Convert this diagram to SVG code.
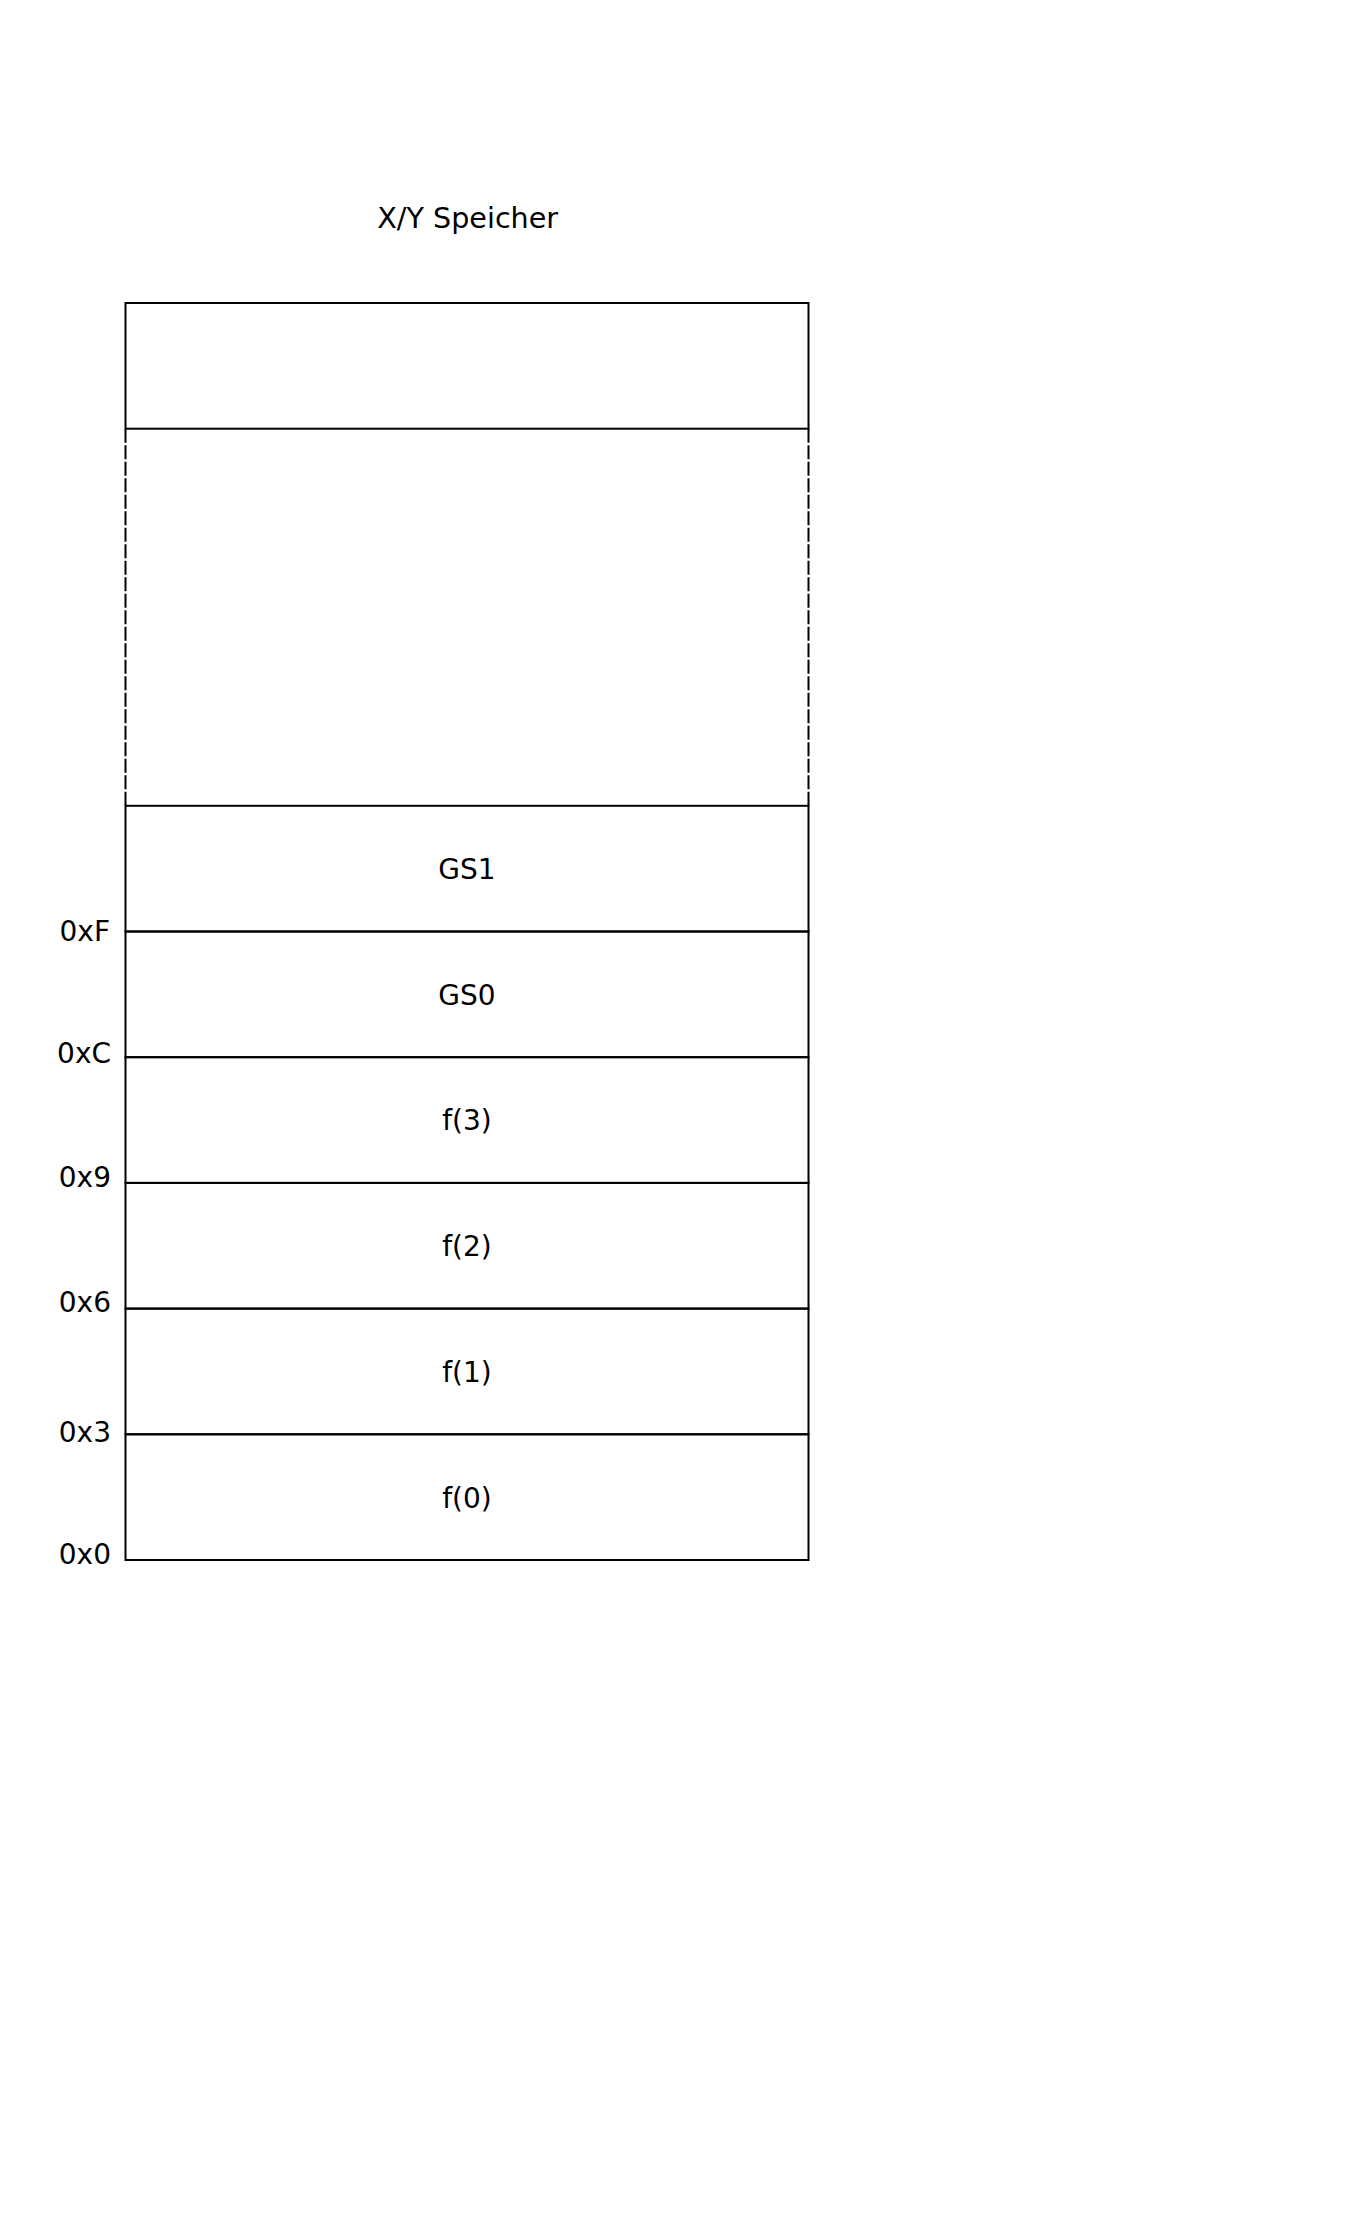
<svg xmlns="http://www.w3.org/2000/svg" width="1364" height="2233" viewBox="0 0 1364 2233">
<style>
text{font-family:"DejaVu Sans","Liberation Sans",sans-serif;font-size:28px;fill:#000}
.t{font-size:28.6px}
.c{text-anchor:middle}
.l{text-anchor:end}
.cell{fill:none;stroke:#000;stroke-width:2}
.dash{fill:none;stroke:#000;stroke-width:2;stroke-dasharray:14 2.5}
</style>
<rect width="1364" height="2233" fill="#fff"/>
<text class="c t" x="467.7" y="228.3">X/Y Speicher</text>
<g id="top"><rect class="cell" x="125.5" y="303" width="683" height="125.7"/></g>
<g id="gap"><line class="dash" x1="125.5" y1="428.7" x2="125.5" y2="805.8"/><line class="dash" x1="808.5" y1="428.7" x2="808.5" y2="805.8"/></g>
<g id="gs1"><rect class="cell" x="125.5" y="805.8" width="683" height="125.7"/><text class="c" x="467" y="879">GS1</text></g>
<g id="gs0"><rect class="cell" x="125.5" y="931.5" width="683" height="125.7"/><text class="c" x="467" y="1004.7">GS0</text></g>
<g id="f3"><rect class="cell" x="125.5" y="1057.2" width="683" height="125.7"/><text class="c" x="467" y="1130.4">f(3)</text></g>
<g id="f2"><rect class="cell" x="125.5" y="1182.9" width="683" height="125.7"/><text class="c" x="467" y="1256.1">f(2)</text></g>
<g id="f1"><rect class="cell" x="125.5" y="1308.6" width="683" height="125.7"/><text class="c" x="467" y="1381.8">f(1)</text></g>
<g id="f0"><rect class="cell" x="125.5" y="1434.3" width="683" height="125.7"/><text class="c" x="467" y="1507.5">f(0)</text></g>
<g id="addr">
<text class="l" x="110" y="941">0xF</text>
<text class="l" x="111" y="1062.7">0xC</text>
<text class="l" x="111" y="1186.7">0x9</text>
<text class="l" x="111" y="1311.5">0x6</text>
<text class="l" x="111" y="1441.7">0x3</text>
<text class="l" x="111" y="1564">0x0</text>
</g>
<g id="connectors"></g>
</svg>
